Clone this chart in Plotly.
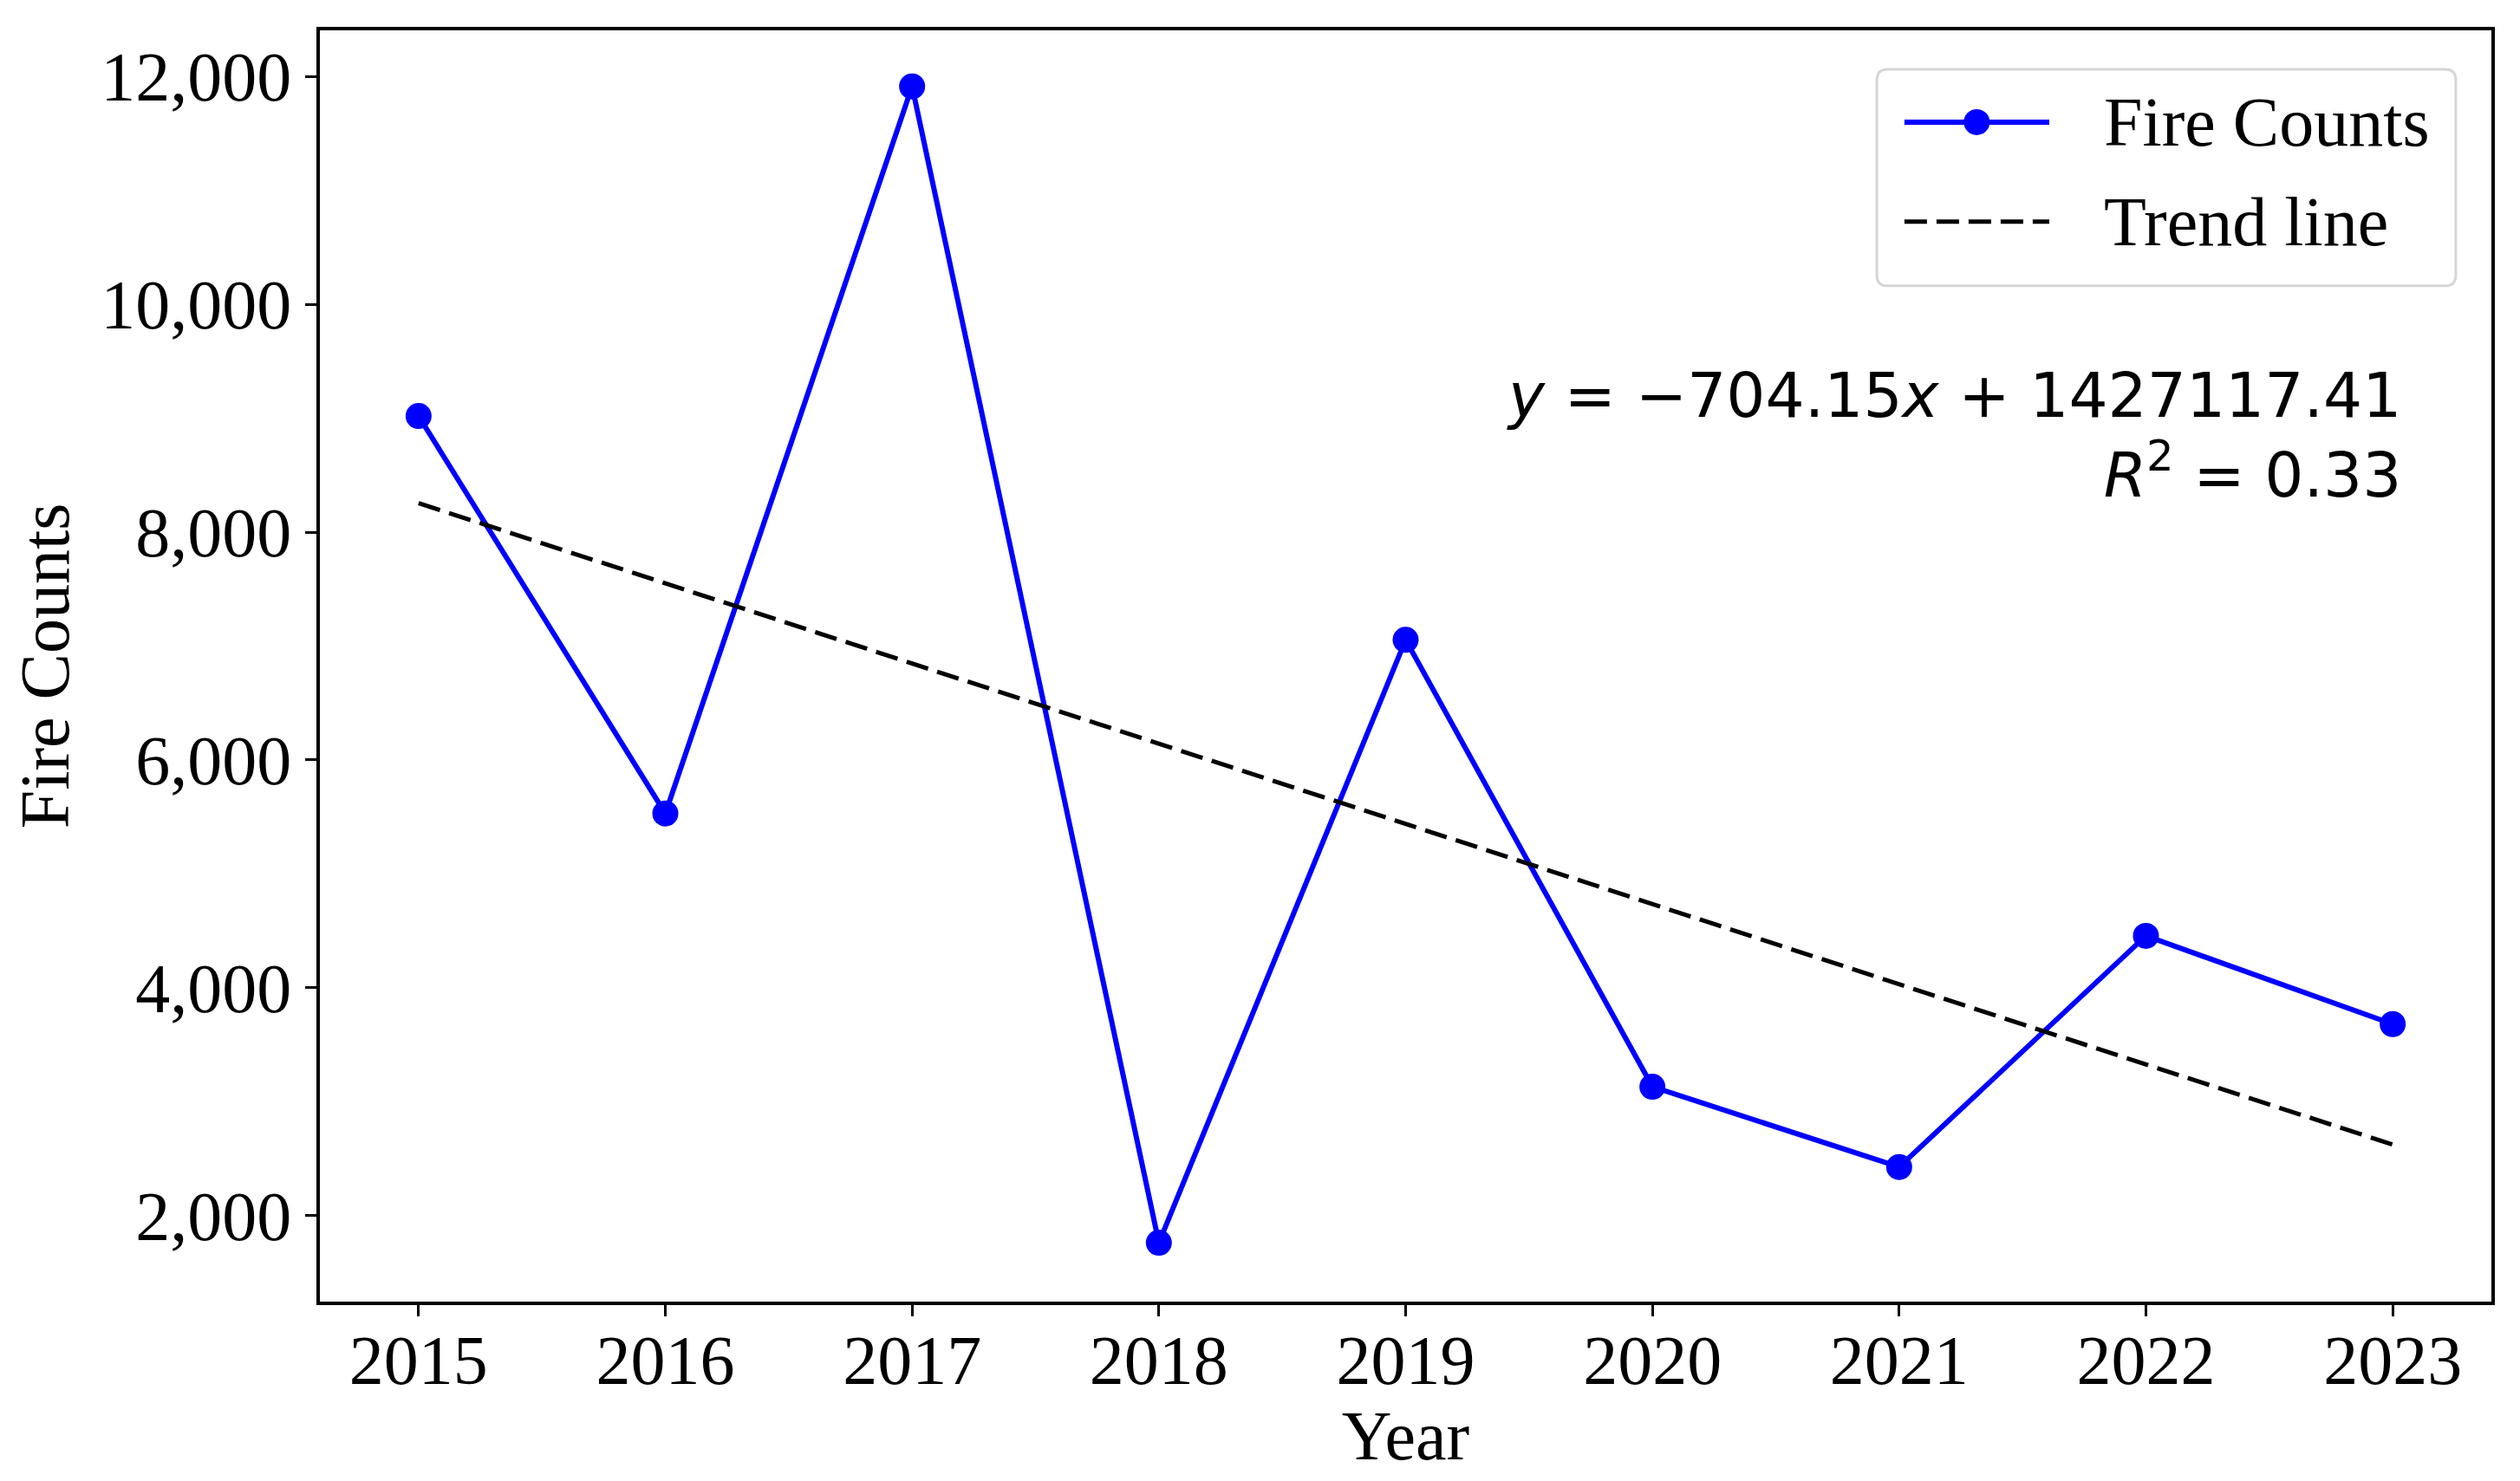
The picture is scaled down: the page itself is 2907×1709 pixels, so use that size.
import plotly.graph_objects as go

years = [2015, 2016, 2017, 2018, 2019, 2020, 2021, 2022, 2023]
fire_counts = [9020, 5530, 11915, 1760, 7055, 3130, 2425, 4455, 3680]
trend_slope = -704.15
trend_intercept = 1427117.41
r_squared = 0.33
y_ticks = [2000, 4000, 6000, 8000, 10000, 12000]
legend_names = ["Fire Counts", "Trend line"]

trend = [trend_slope * x + trend_intercept for x in years]

# page body has an 8px margin; size the figure to fit the 2907x1709 window
W, H = 2891, 1693
L, R, T, B = 361, 25, 27, 199
serif = "Liberation Serif"
BLUE = "#0000ff"

fig = go.Figure()
fig.add_trace(go.Scatter(
    x=years, y=fire_counts, mode="lines+markers", name=legend_names[0],
    line=dict(color=BLUE, width=6),
    marker=dict(color=BLUE, size=30),
    showlegend=False,
))
fig.add_trace(go.Scatter(
    x=years, y=trend, mode="lines", name=legend_names[1],
    line=dict(color="black", width=5, dash="26px,11px"),
    showlegend=False,
))

# equation annotation (two lines, one text block)
eq_text = ("<i>y</i> = \u2212%.2f<i>x</i> + %.2f<br><i>R</i><sup>2</sup> = %.2f"
           % (abs(trend_slope), trend_intercept, r_squared))
fig.add_annotation(
    xref="paper", yref="paper", x=0.9592, y=0.6815,
    xanchor="right", yanchor="middle", align="right",
    text=eq_text, showarrow=False,
    font=dict(family="DejaVu Sans", size=71, color="black"),
)

# custom legend box (matplotlib-like, rounded corners)
x0, x1, y0, y1 = 0.717, 0.9836, 0.799, 0.9694
rx, ry = 0.005, 0.0085
path = (f"M{x0+rx},{y0} L{x1-rx},{y0} Q{x1},{y0} {x1},{y0+ry} "
        f"L{x1},{y1-ry} Q{x1},{y1} {x1-rx},{y1} L{x0+rx},{y1} "
        f"Q{x0},{y1} {x0},{y1-ry} L{x0},{y0+ry} Q{x0},{y0} {x0+rx},{y0} Z")
fig.add_shape(type="path", xref="paper", yref="paper", path=path,
              line=dict(color="#d6d6d6", width=3), fillcolor="rgba(255,255,255,0.8)",
              layer="above")
lx0, lx1, lxm = 0.7297, 0.7964, 0.763
row_y = [0.9278, 0.8495]
fig.add_shape(type="line", xref="paper", yref="paper", x0=lx0, x1=lx1,
              y0=row_y[0], y1=row_y[0], line=dict(color=BLUE, width=6), layer="above")
mrx, mry = 15 / 2505, 15 / 1469
fig.add_shape(type="circle", xref="paper", yref="paper",
              x0=lxm - mrx, x1=lxm + mrx, y0=row_y[0] - mry, y1=row_y[0] + mry,
              line=dict(color=BLUE, width=0), fillcolor=BLUE, layer="above")
fig.add_shape(type="line", xref="paper", yref="paper", x0=lx0, x1=lx1,
              y0=row_y[1], y1=row_y[1],
              line=dict(color="black", width=5, dash="26px,11px"), layer="above")
for name, yy in zip(legend_names, row_y):
    fig.add_annotation(
        xref="paper", yref="paper", x=0.8208, y=yy, xanchor="left", yanchor="middle",
        text=name, showarrow=False,
        font=dict(family=serif, size=80, color="black"),
    )

axis_common = dict(
    showline=True, linecolor="black", linewidth=3.5, mirror=True,
    ticks="outside", ticklen=13, tickwidth=3, tickcolor="black",
    showgrid=False, zeroline=False,
    tickfont=dict(family=serif, size=80, color="black"),
)

fig.update_xaxes(
    range=[2014.6, 2023.4], tickvals=years, ticktext=[str(y) for y in years],
    ticklabelstandoff=-18,
    title=dict(text="Year", font=dict(family=serif, size=80, color="black"), standoff=22),
    **axis_common,
)
fig.update_yaxes(
    range=[1243, 12407], tickvals=y_ticks, tickformat=",d",
    title=dict(text="Fire Counts", font=dict(family=serif, size=80, color="black"), standoff=18),
    **axis_common,
)

fig.update_layout(
    width=W, height=H,
    margin=dict(l=L, r=R, t=T, b=B, autoexpand=False),
    plot_bgcolor="white", paper_bgcolor="white",
    font=dict(family=serif, color="black"),
    showlegend=False,
)

fig.write_html("out.html")
